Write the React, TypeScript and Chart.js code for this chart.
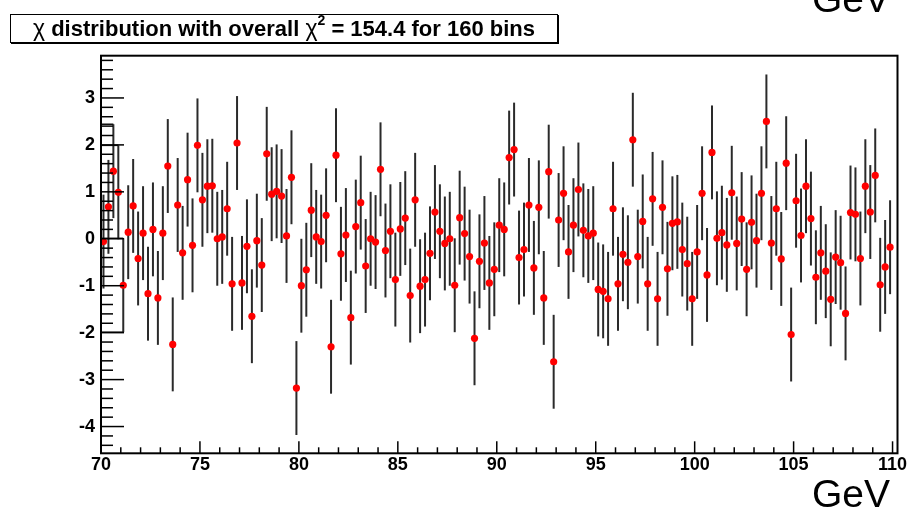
import React, { useEffect, useRef } from "react";
import { Chart, registerables } from "chart.js";

Chart.register(...registerables);

// ---- data -----------------------------------------------------------
const binLow = 70;
const binWidth = 0.25;
const chiError = 1;

const chiValues: number[] = [
  -0.06, 0.68, 1.44, 0.99, -0.99, 0.14, 0.7, -0.42, 0.12, -1.17,
  0.2, -1.26, 0.12, 1.55, -2.25, 0.72, -0.3, 1.26, -0.14, 1.99,
  0.83, 1.12, 1.13, 0.0, 0.04, 0.64, -0.96, 2.04, -0.94, -0.16,
  -1.65, -0.04, -0.56, 1.81, 0.95, 1.01, 0.91, 0.06, 1.31, -3.18,
  -1.0, -0.66, 0.61, 0.04, -0.06, 0.5, -2.3, 1.78, -0.32, 0.08,
  -1.68, 0.26, 0.77, -0.58, 0.0, -0.07, 1.48, -0.25, 0.16, -0.87,
  0.21, 0.44, -1.21, 0.83, -1.01, -0.87, -0.31, 0.57, 0.16, -0.1,
  0.0, -0.99, 0.45, 0.11, -0.38, -2.12, -0.48, -0.09, -0.94, -0.65,
  0.29, 0.2, 1.73, 1.9, -0.4, -0.23, 0.72, -0.62, 0.67, -1.26,
  1.43, -2.62, 0.4, 0.97, -0.28, 0.29, 1.05, 0.18, 0.06, 0.12,
  -1.08, -1.12, -1.28, 0.64, -0.96, -0.33, -0.5, 2.11, -0.38, 0.37,
  -0.96, 0.85, -1.28, 0.67, -0.64, 0.33, 0.36, -0.23, -0.53, -1.28,
  -0.28, 0.97, -0.77, 1.84, 0.01, 0.13, -0.13, 0.98, -0.1, 0.42,
  -0.65, 0.35, -0.04, 0.97, 2.5, -0.09, 0.64, -0.43, 1.61, -2.04,
  0.81, 0.07, 1.12, 0.43, -0.82, -0.3, -0.69, -1.29, -0.39, -0.51,
  -1.59, 0.56, 0.52, -0.42, 1.12, 0.57, 1.35, -0.98, -0.6, -0.18,
];

const xTickLabels = [70, 75, 80, 85, 90, 95, 100, 105, 110];
const yTickLabels = [-4, -3, -2, -1, 0, 1, 2, 3];

// error-bar ends that, in the reference, are joined to the y axis
const joinedCaps: [number, number][] = [
  [2, 1],
  [3, 1],
  [4, 1],
  [4, -1],
];

const xMin = 70;
const xMax = 110.25;
const yMin = -4.57;
const yMax = 3.9;

const titleText = "distribution with overall";
const titleTail = "= 154.4 for 160 bins";
const unitText = "GeV";

// ---- helpers --------------------------------------------------------
const binCenter = (i: number) => binLow + binWidth * (i + 0.5);
const FONT = '"Liberation Sans", Arial, Helvetica, sans-serif';

const rootStylePlugin = {
  id: "rootStyle",
  beforeDatasetsDraw(chart: any) {
    const ctx = chart.ctx;
    const xs = chart.scales.x;
    const ys = chart.scales.y;
    const area = chart.chartArea;
    ctx.save();
    ctx.strokeStyle = "#2a2a2a";
    ctx.lineWidth = 2;
    chiValues.forEach((v, i) => {
      const x = xs.getPixelForValue(binCenter(i));
      ctx.beginPath();
      ctx.moveTo(x, ys.getPixelForValue(v + chiError));
      ctx.lineTo(x, ys.getPixelForValue(v - chiError));
      ctx.stroke();
    });
    ctx.strokeStyle = "#111";
    ctx.lineWidth = 1.5;
    joinedCaps.forEach(([bin, side]) => {
      const x = xs.getPixelForValue(binCenter(bin));
      const y = ys.getPixelForValue(chiValues[bin] + side * chiError);
      ctx.beginPath();
      ctx.moveTo(area.left, y);
      ctx.lineTo(x, y);
      ctx.stroke();
    });
    ctx.restore();
  },
  afterDraw(chart: any) {
    const ctx = chart.ctx;
    const xs = chart.scales.x;
    const ys = chart.scales.y;
    const a = chart.chartArea;
    ctx.save();
    ctx.strokeStyle = "#000";
    ctx.lineWidth = 1.5;
    // x ticks (inward)
    for (let v = Math.ceil(xMin); v <= Math.floor(xMax); v++) {
      const major = xTickLabels.includes(v);
      const x = xs.getPixelForValue(v);
      ctx.beginPath();
      ctx.moveTo(x, a.bottom);
      ctx.lineTo(x, a.bottom - (major ? 12 : 6));
      ctx.stroke();
    }
    // y ticks (inward)
    const start = Math.ceil(yMin * 5);
    const end = Math.floor(yMax * 5);
    for (let k = start; k <= end; k++) {
      const v = k / 5;
      const major = k % 5 === 0;
      const y = ys.getPixelForValue(v);
      ctx.beginPath();
      ctx.moveTo(a.left, y);
      ctx.lineTo(a.left + (major ? 23 : 12), y);
      ctx.stroke();
    }
    // frame
    ctx.lineWidth = 2;
    ctx.strokeRect(a.left, a.top, a.right - a.left, a.bottom - a.top);
    ctx.restore();
  },
};

export default function App() {
  const canvasRef = useRef<HTMLCanvasElement | null>(null);

  useEffect(() => {
    if (!canvasRef.current) return;
    const points = chiValues.map((v, i) => ({ x: binCenter(i), y: v }));
    const chart = new Chart(canvasRef.current, {
      type: "scatter",
      data: {
        datasets: [
          {
            data: points,
            pointRadius: 3.6,
            pointBackgroundColor: "#ff0000",
            pointBorderWidth: 0,
            pointHoverRadius: 3.6,
          },
        ],
      },
      options: {
        animation: false,
        responsive: false,
        devicePixelRatio: 1,
        layout: { padding: { top: 55.7, right: 909 - 897.5, left: 0, bottom: 0 } },
        plugins: { legend: { display: false }, tooltip: { enabled: false }, title: { display: false } },
        events: [],
        scales: {
          x: {
            type: "linear",
            min: xMin,
            max: xMax,
            grid: { display: false, drawTicks: false },
            border: { display: false },
            afterBuildTicks: (s: any) => {
              s.ticks = xTickLabels.map((v) => ({ value: v }));
            },
            afterFit: (s: any) => {
              s.height = 511 - 453.3;
            },
            ticks: {
              autoSkip: false,
              maxRotation: 0,
              padding: 1,
              color: "#000",
              font: { family: FONT, size: 18, weight: "bold" },
              callback: (v: any) => String(v),
            },
          },
          y: {
            type: "linear",
            min: yMin,
            max: yMax,
            grid: { display: false, drawTicks: false },
            border: { display: false },
            afterBuildTicks: (s: any) => {
              s.ticks = yTickLabels.map((v) => ({ value: v }));
            },
            afterFit: (s: any) => {
              s.width = 101;
            },
            ticks: {
              padding: 6,
              color: "#000",
              font: { family: FONT, size: 18, weight: "bold" },
              callback: (v: any) => String(v),
            },
          },
        },
      },
      plugins: [rootStylePlugin],
    });
    return () => chart.destroy();
  }, []);

  return (
    <div
      style={{
        position: "absolute",
        left: 0,
        top: 0,
        width: 909,
        height: 511,
        overflow: "hidden",
        background: "#fff",
      }}
    >
      <canvas ref={canvasRef} width={909} height={511} style={{ position: "absolute", left: 0, top: 0, width: 909, height: 511 }} />
      <div
        style={{
          position: "absolute",
          left: 10,
          top: 14,
          width: 546,
          height: 27,
          border: "1px solid #000",
          boxShadow: "1px 1px 0 #000",
          background: "#fff",
          display: "flex",
          alignItems: "center",
          justifyContent: "center",
          whiteSpace: "pre",
          font: `bold 22px ${FONT}`,
          color: "#000",
        }}
      >
        <span style={{ fontWeight: "normal", fontSize: 23 }}>χ</span>
        <span>{"\u00a0" + titleText + "\u00a0"}</span>
        <span style={{ fontWeight: "normal", fontSize: 23 }}>χ</span>
        <span style={{ fontSize: 14, position: "relative", top: -9 }}>2</span>
        <span>{"\u00a0" + titleTail}</span>
      </div>
      <div
        style={{
          position: "absolute",
          right: 19,
          top: -21,
          font: `39px ${FONT}`,
          lineHeight: 1,
          color: "#000",
        }}
      >
        {unitText}
      </div>
      <div
        style={{
          position: "absolute",
          right: 19,
          top: 474,
          font: `39px ${FONT}`,
          lineHeight: 1,
          color: "#000",
        }}
      >
        {unitText}
      </div>
    </div>
  );
}
